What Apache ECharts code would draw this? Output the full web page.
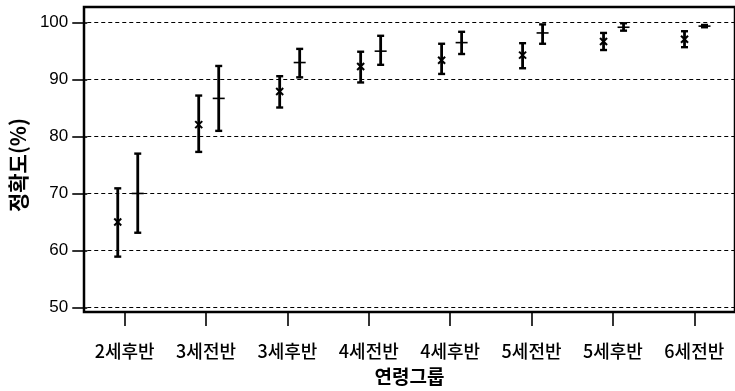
<!DOCTYPE html>
<html><head><meta charset="utf-8">
<script src="https://cdn.jsdelivr.net/npm/echarts@6/dist/echarts.min.js"></script>
<style>html,body{margin:0;padding:0;background:#fff;}#c{width:735px;height:391px;}</style>
</head><body><div id="c"></div>
<script>
const categories = ['2세후반','3세전반','3세후반','4세전반','4세후반','5세전반','5세후반','6세전반'];
const leftMean  = [65.0, 82.1, 87.9, 92.3, 93.4, 94.3, 96.7, 97.1];
const leftLow   = [58.9, 77.3, 85.1, 89.5, 91.0, 92.0, 95.2, 95.7];
const leftHigh  = [70.9, 87.2, 90.6, 94.9, 96.3, 96.4, 98.2, 98.5];
const rightMean = [70.0, 86.7, 93.0, 95.0, 96.5, 98.2, 99.2, 99.4];
const rightLow  = [63.1, 81.0, 90.4, 92.6, 94.5, 96.3, 98.6, 99.2];
const rightHigh = [77.0, 92.4, 95.4, 97.7, 98.4, 99.7, 99.9, 99.6];
const yMin = 50, yMax = 100, yStep = 10;
const xName = '연령그룹';
const yName = '정확도(%)';

const FONT = '"Noto Sans CJK KR", "Liberation Sans", sans-serif';

function makeRender(offset, marker) {
  return function (params, api) {
    const i = api.value(0);
    const lo = api.coord([i, api.value(1)]);
    const hi = api.coord([i, api.value(2)]);
    const mid = api.coord([i, api.value(3)]);
    const x = lo[0] + offset;
    const st = { stroke: '#000', lineWidth: 2.4 };
    const cap = 3.5;
    const children = [
      { type: 'line', shape: { x1: x, y1: lo[1], x2: x, y2: hi[1] }, style: { stroke: '#000', lineWidth: 2.8 } },
      { type: 'line', shape: { x1: x - cap, y1: lo[1], x2: x + cap, y2: lo[1] }, style: st },
      { type: 'line', shape: { x1: x - cap, y1: hi[1], x2: x + cap, y2: hi[1] }, style: st }
    ];
    if (marker === 'x') {
      const s = 3.5;
      children.push({ type: 'line', shape: { x1: x - s, y1: mid[1] - s, x2: x + s, y2: mid[1] + s }, style: { stroke: '#000', lineWidth: 2 } });
      children.push({ type: 'line', shape: { x1: x - s, y1: mid[1] + s, x2: x + s, y2: mid[1] - s }, style: { stroke: '#000', lineWidth: 2 } });
    } else {
      const s = 6;
      children.push({ type: 'line', shape: { x1: x - s, y1: mid[1], x2: x + s, y2: mid[1] }, style: { stroke: '#000', lineWidth: 1.6 } });
    }
    return { type: 'group', children: children };
  };
}

const leftData = categories.map((c, i) => [i, leftLow[i], leftHigh[i], leftMean[i]]);
const rightData = categories.map((c, i) => [i, rightLow[i], rightHigh[i], rightMean[i]]);

const chart = echarts.init(document.getElementById('c'), null, { renderer: 'canvas' });
chart.setOption({
  backgroundColor: '#fff',
  animation: false,
  grid: [
    { left: 84, width: 656, top: 22.7, height: 284.6, containLabel: false },
    { left: 84, width: 656, top: 7, height: 316, show: true, borderColor: '#000', borderWidth: 2.5, backgroundColor: 'transparent', containLabel: false }
  ],
  xAxis: [
    { type: 'category', gridIndex: 0, data: categories, show: false },
    {
      type: 'category', gridIndex: 1, data: categories, position: 'bottom',
      axisLine: { show: false },
      axisTick: { show: true, alignWithLabel: true, length: 14, lineStyle: { color: '#000', width: 1.6 } },
      axisLabel: { color: '#000', fontSize: 18, fontWeight: 500, fontFamily: FONT, margin: 30 },
      name: xName, nameLocation: 'middle', nameGap: 55,
      nameTextStyle: { color: '#000', fontSize: 19, fontWeight: 'bold', fontFamily: FONT }
    }
  ],
  yAxis: [
    {
      type: 'value', gridIndex: 0, min: yMin, max: yMax, interval: yStep,
      axisLine: { show: false },
      axisTick: { show: true, length: 15, lineStyle: { color: '#000', width: 1.6 } },
      axisLabel: { color: '#000', fontSize: 17, fontFamily: '"Liberation Sans", Arial, sans-serif', margin: 19 },
      splitLine: { show: true, lineStyle: { color: '#000', width: 1, type: [4, 3] } },
      name: yName, nameLocation: 'middle', nameGap: 56, nameRotate: 90,
      nameTextStyle: { color: '#000', fontSize: 21, fontWeight: 'bold', fontFamily: FONT }
    },
    { type: 'value', gridIndex: 1, show: false, min: 0, max: 1 }
  ],
  series: [
    { type: 'custom', xAxisIndex: 0, yAxisIndex: 0, renderItem: makeRender(-10, 'x'), data: leftData, encode: { x: 0, y: [1, 2, 3] }, clip: false },
    { type: 'custom', xAxisIndex: 0, yAxisIndex: 0, renderItem: makeRender(10, '+'), data: rightData, encode: { x: 0, y: [1, 2, 3] }, clip: false }
  ]
});
</script>
</body></html>
